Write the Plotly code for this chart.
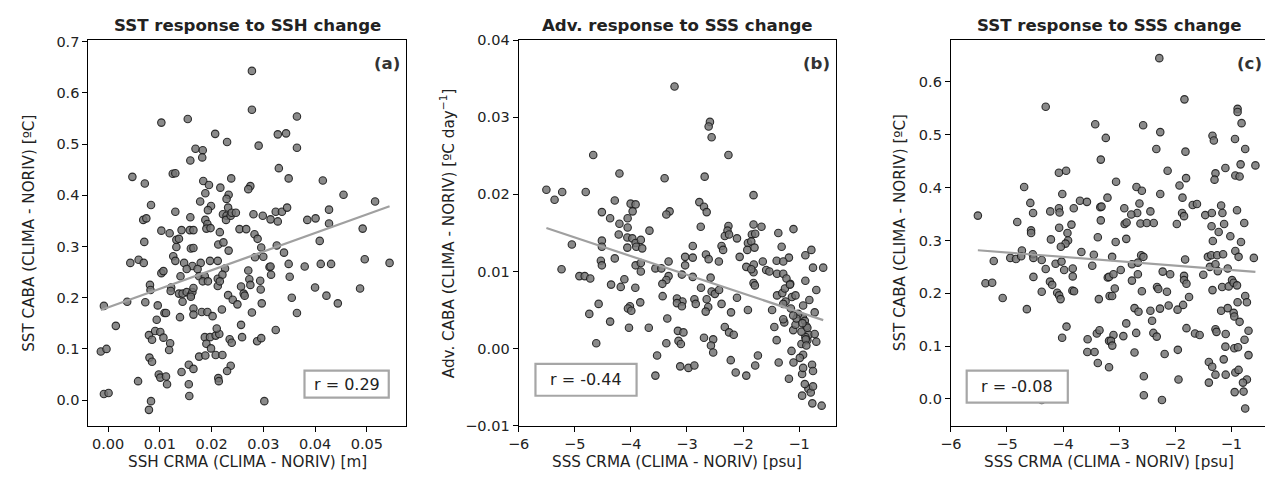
import numpy as np
import plotly.graph_objects as go

# ---------------- data ----------------
# Panel (a): SSH CRMA (x) vs SST CABA (y)
ssh_a = [0.0103,0.0154,0.0207,0.0230,0.0169,0.0183,0.0182,0.0159,0.0047,0.0071,0.0125,0.0130,0.0184,0.0195,0.0217,0.0238,0.0188,0.0233,0.0229,0.0178,0.0199,0.0193,0.0083,0.0130,0.0159,0.0222,0.0229,0.0188,0.0192,0.0228,0.0068,0.0074,0.0237,
         0.0278,0.0278,0.0365,0.0328,0.0344,0.0291,0.0365,0.0330,0.0349,0.0415,0.0275,0.0271,0.0455,0.0516,
         0.0232,0.0239,0.0247,0.0281,0.0299,0.0314,0.0324,0.0336,0.0346,0.0328,0.0385,0.0401,0.0427,0.0427,0.0492,0.0254,0.0267,
         0.0103,0.0119,0.0142,0.0158,0.0165,0.0190,0.0198,0.0216,0.0070,0.0132,0.0137,0.0132,0.0160,0.0165,0.0213,0.0223,0.0233,0.0043,0.0059,0.0069,0.0126,0.0130,0.0147,0.0163,0.0179,0.0197,0.0212,0.0226,0.0152,0.0173,0.0176,0.0187,0.0183,0.0193,0.0212,0.0221,0.0212,0.0216,0.0103,0.0107,0.0140,0.0081,0.0082,0.0122,0.0121,0.0137,0.0144,0.0152,0.0160,0.0163,0.0165,0.0160,0.0144,-0.0008,0.0037,0.0072,0.0096,0.0109,0.0112,0.0094,0.0139,0.0165,0.0165,0.0181,0.0192,0.0202,0.0220,0.0015,0.0079,0.0085,0.0091,0.0101,0.0107,0.0120,0.0118,-0.0014,-0.0003,0.0080,0.0085,0.0176,0.0188,0.0187,0.0197,0.0208,0.0215,0.0210,0.0190,0.0199,0.0208,0.0221,0.0235,0.0237,0.0230,0.0156,0.0165,0.0142,0.0058,0.0098,0.0101,0.0112,0.0114,0.0156,0.0157,0.0213,0.0214,-0.0008,0.0001,0.0083,0.0079,
         0.0283,0.0289,0.0296,0.0284,0.0300,0.0326,0.0340,0.0312,0.0314,0.0315,0.0349,0.0351,0.0380,0.0411,0.0431,0.0409,0.0496,0.0271,0.0273,0.0275,0.0294,0.0295,0.0257,0.0262,0.0264,0.0232,0.0241,0.0250,0.0297,0.0278,0.0355,0.0365,0.0400,0.0422,0.0444,0.0487,0.0257,0.0324,0.0259,0.0239,0.0288,0.0296,0.0302,
         0.0544]
sst_a = [0.542,0.549,0.520,0.504,0.491,0.488,0.474,0.468,0.436,0.423,0.442,0.443,0.428,0.420,0.415,0.433,0.404,0.401,0.393,0.388,0.379,0.371,0.381,0.368,0.357,0.363,0.360,0.352,0.344,0.352,0.352,0.355,0.360,
         0.643,0.567,0.554,0.519,0.521,0.497,0.493,0.453,0.433,0.429,0.418,0.412,0.401,0.388,
         0.376,0.366,0.366,0.363,0.360,0.353,0.368,0.368,0.376,0.349,0.352,0.355,0.372,0.345,0.335,0.334,0.334,
         0.331,0.326,0.332,0.332,0.332,0.335,0.336,0.328,0.309,0.313,0.315,0.299,0.296,0.297,0.304,0.308,0.292,0.268,0.274,0.268,0.281,0.272,0.268,0.262,0.268,0.272,0.272,0.257,0.256,0.256,0.242,0.242,0.232,0.232,0.237,0.245,0.223,0.232,0.248,0.252,0.242,0.225,0.215,0.220,0.213,0.208,0.208,0.211,0.205,0.211,0.219,0.202,0.192,0.184,0.192,0.191,0.185,0.170,0.170,0.157,0.162,0.179,0.167,0.172,0.172,0.164,0.177,0.145,0.127,0.118,0.135,0.133,0.122,0.111,0.098,0.095,0.100,0.083,0.075,0.085,0.087,0.123,0.123,0.126,0.129,0.140,0.110,0.101,0.088,0.088,0.119,0.067,0.057,0.069,0.061,0.055,0.037,0.050,0.044,0.046,0.031,0.031,0.008,0.043,0.037,0.012,0.014,-0.002,-0.019,
         0.324,0.315,0.298,0.279,0.280,0.302,0.288,0.260,0.261,0.245,0.266,0.241,0.261,0.266,0.266,0.311,0.275,0.253,0.236,0.225,0.233,0.216,0.222,0.208,0.204,0.205,0.196,0.187,0.189,0.171,0.200,0.170,0.220,0.204,0.189,0.218,0.147,0.137,0.123,0.112,0.115,0.121,-0.002,
         0.268]

# Panel (b): SSS CRMA (x) vs Adv. CABA (y)
sss_b = [-5.505,-5.359,-5.223,-4.804,-4.670,-4.203,-4.286,-4.516,-4.369,-4.203,-4.057,-4.004,-3.915,-3.968,-4.057,
         -3.221,-2.590,-2.613,-2.560,-2.260,-3.398,-2.684,-1.813,-2.779,-2.696,-2.648,-3.309,-3.367,-2.754,-2.260,-1.813,-1.671,-3.668,
         -5.051,-5.235,-4.917,-4.822,-4.723,-4.516,-4.516,-4.534,-4.516,-4.286,-4.216,-4.062,-3.973,-4.062,-3.915,-3.903,-3.915,-4.352,-4.180,-4.115,-3.920,-4.574,-4.740,-4.016,-4.051,-3.991,-3.832,-4.369,-4.033,-4.616,
         -2.277,-2.325,-2.249,-2.108,-1.843,-1.783,-1.913,-1.853,-1.924,-1.795,-1.371,-3.822,-3.797,-2.896,-3.822,-3.822,-3.562,-3.456,-3.327,-3.032,-2.896,-3.032,-2.661,-2.613,-2.431,-2.383,-2.355,-2.060,-1.942,-1.808,-1.813,-1.853,-1.648,-1.588,-1.530,-1.401,-1.394,-3.327,-3.367,-3.438,-3.090,-2.896,-2.578,-2.749,-2.560,-2.502,-2.427,-1.813,-1.789,-1.394,-3.433,-3.178,-3.080,-3.178,-3.090,-2.867,-2.843,-2.648,-2.620,-2.666,-2.383,-2.108,-2.214,-1.913,-1.482,-3.350,-3.680,-3.161,-3.062,-2.325,-2.249,-2.166,-1.442,-3.367,-3.150,-3.108,-2.696,-2.532,-2.572,-2.532,-1.401,-3.532,-3.120,-2.973,-2.867,-2.219,-2.131,-1.942,-1.735,-1.783,-1.365,-3.562,
         -0.889,-0.889,-0.818,-1.312,-0.935,-0.753,-1.283,-1.300,-1.106,-0.835,-0.571,-0.929,-0.853,-1.182,-1.159,-0.899,-1.129,-0.770,-1.226,-1.018,-0.828,-0.929,-0.871,-0.599,-1.253,-1.147,-1.283,-1.242,-1.065,-1.164,-1.047,-0.988,-0.959,-0.899,-0.753,-0.723,-0.889,-1.182,-1.065,-0.959,-0.947,-0.853,
         -1.283,-1.265,-1.101,-0.694,-0.765,-1.106,-0.947,-0.882,-0.694,-1.136,-1.283,-1.101,-0.929,-0.871,-0.723,-0.793,-0.941,-0.782,-0.753]
adv_b = [0.0206,0.0193,0.0203,0.0203,0.0251,0.0227,0.0192,0.0177,0.0169,0.0162,0.0169,0.0188,0.0187,0.0178,0.0157,
         0.0340,0.0294,0.0288,0.0274,0.0251,0.0221,0.0223,0.0199,0.0190,0.0184,0.0177,0.0178,0.0174,0.0158,0.0159,0.0161,0.0158,0.0153,
         0.0135,0.0103,0.0094,0.0094,0.0091,0.0140,0.0132,0.0114,0.0108,0.0117,0.0148,0.0144,0.0143,0.0131,0.0137,0.0132,0.0108,0.0083,0.0080,0.0090,0.0079,0.0058,0.0045,0.0055,0.0052,0.0049,0.0060,0.0035,0.0027,0.0007,
         0.0153,0.0146,0.0148,0.0143,0.0148,0.0149,0.0137,0.0139,0.0128,0.0131,0.0150,0.0141,0.0130,0.0133,0.0111,0.0100,0.0104,0.0104,0.0113,0.0119,0.0118,0.0108,0.0122,0.0116,0.0113,0.0133,0.0128,0.0119,0.0106,0.0109,0.0099,0.0103,0.0113,0.0102,0.0100,0.0114,0.0097,0.0094,0.0089,0.0084,0.0096,0.0093,0.0092,0.0079,0.0074,0.0071,0.0076,0.0085,0.0082,0.0069,0.0068,0.0065,0.0061,0.0059,0.0055,0.0064,0.0058,0.0064,0.0054,0.0048,0.0058,0.0066,0.0047,0.0050,0.0050,0.0039,0.0027,0.0023,0.0021,0.0028,0.0021,0.0018,0.0028,0.0007,0.0010,0.0006,0.0014,0.0012,0.0004,-0.0005,0.0011,-0.0009,-0.0023,-0.0025,-0.0022,-0.0015,-0.0031,-0.0035,-0.0009,-0.0022,-0.0018,-0.0035,
         0.0121,0.0088,0.0063,0.0132,0.0041,0.0105,0.0097,0.0072,0.0024,-0.0052,0.0105,0.0056,0.0011,0.0118,0.0084,0.0036,0.0067,-0.0021,0.0091,0.0045,0.0018,-0.0008,0.0029,-0.0074,0.0078,0.0052,0.0113,0.0061,0.0031,0.0083,0.0039,-0.0012,0.0006,-0.0046,-0.0029,0.0047,0.0015,-0.0039,0.0069,0.0022,-0.0061,0.0027,
         0.0058,0.0034,-0.0018,0.0009,-0.0071,0.0043,-0.0033,0.0012,0.0076,-0.0003,0.0038,0.0155,-0.0025,0.0004,0.0019,-0.0057,0.0033,0.0128,-0.0049]

# Panel (c): SSS CRMA (x) vs SST CABA (y)
sss_c = [-4.309,-3.426,-3.238,-3.327,-4.074,-3.945,-4.693,-4.013,-4.583,-4.534,-5.518,-4.228,-4.074,-4.062,-3.809,-3.698,-3.574,-3.336,-3.314,-3.208,-4.816,-3.850,-3.327,-4.069,-4.570,
         -2.284,-1.836,-0.889,-0.889,-0.818,-2.572,-2.267,-1.336,-1.312,-0.935,-2.337,-1.818,-0.753,-2.136,-1.283,-1.300,-1.106,-0.835,-0.571,-0.929,-0.853,-1.807,-1.924,-3.055,-2.691,-2.595,-2.267,-1.871,-1.689,-1.613,-2.638,-2.908,-2.678,-2.784,-2.443,-1.878,-1.843,-1.465,-1.348,-1.182,-1.159,-0.899,-2.902,-2.867,-2.620,-2.507,-2.383,-1.972,-1.353,-1.129,-0.770,
         -4.569,-4.216,-3.921,-3.910,-3.956,-4.039,-3.380,-4.733,-4.940,-4.839,-4.746,-4.539,-4.528,-5.235,-4.380,-4.133,-4.027,-3.673,-3.451,-3.827,-3.980,-4.309,-3.479,-3.827,-4.528,-5.382,-5.263,-4.233,-4.193,-4.380,-4.104,-4.069,-4.044,-3.833,-3.804,-5.076,-3.362,-4.645,-3.203,-3.170,-3.938,-4.016,-3.562,-3.398,-3.350,-3.180,-3.567,-3.438,-3.380,-3.180,-4.380,
         -1.226,-3.062,-2.873,-1.330,-1.018,-0.828,-0.929,-0.871,-0.599,-3.125,-2.772,-2.666,-2.608,-2.567,-2.972,-3.180,-3.101,-2.772,-2.666,-1.824,-2.224,-2.090,-1.843,-1.843,-1.800,-1.500,-1.418,-1.358,-1.253,-1.147,-1.382,-1.283,-1.242,-1.065,-3.125,-3.078,-2.595,-2.325,-2.302,-2.148,-1.754,-1.860,-1.959,-2.118,-2.272,-2.443,-2.726,-2.655,-1.336,-1.164,-1.047,-0.988,-0.959,-0.899,-0.753,-0.723,-0.889,-1.182,-1.065,-0.959,-0.947,-0.853,-2.413,-2.873,-3.101,-2.925,-3.146,-3.122,-2.696,-2.390,-2.330,-1.800,-1.648,-1.565,-1.283,-1.265,-1.101,-0.694,-0.765,-1.106,-0.947,-0.882,-2.726,-2.189,-1.954,-0.694,-1.136,-1.401,-1.341,-1.283,-1.101,-0.929,-0.871,-0.723,-0.793,-1.401,-2.560,-1.942,-0.941,-0.782,-2.560,-2.237,-0.753]
sst_c = [0.553,0.520,0.494,0.453,0.428,0.432,0.401,0.388,0.371,0.352,0.347,0.355,0.361,0.353,0.361,0.375,0.373,0.363,0.364,0.381,0.335,0.330,0.338,0.324,0.319,
         0.645,0.567,0.549,0.543,0.522,0.518,0.505,0.498,0.489,0.492,0.473,0.468,0.473,0.432,0.427,0.415,0.437,0.444,0.442,0.423,0.421,0.418,0.404,0.411,0.401,0.394,0.388,0.381,0.367,0.369,0.370,0.361,0.352,0.349,0.355,0.352,0.346,0.348,0.352,0.366,0.352,0.357,0.331,0.334,0.332,0.333,0.333,0.331,0.327,0.331,0.333,
         0.314,0.302,0.314,0.300,0.294,0.288,0.306,0.281,0.267,0.265,0.270,0.274,0.267,0.261,0.263,0.256,0.260,0.278,0.273,0.247,0.244,0.246,0.252,0.232,0.231,0.219,0.220,0.222,0.216,0.203,0.201,0.196,0.189,0.205,0.204,0.191,0.189,0.170,0.230,0.195,0.137,0.116,0.113,0.124,0.130,0.110,0.089,0.089,0.068,0.060,-0.002,
         0.316,0.297,0.303,0.299,0.308,0.297,0.280,0.269,0.267,0.269,0.255,0.258,0.272,0.269,0.244,0.231,0.236,0.224,0.236,0.264,0.241,0.236,0.233,0.225,0.218,0.235,0.269,0.272,0.272,0.274,0.250,0.255,0.242,0.247,0.195,0.209,0.204,0.212,0.208,0.203,0.193,0.178,0.169,0.177,0.171,0.167,0.172,0.165,0.206,0.212,0.213,0.225,0.220,0.215,0.195,0.183,0.183,0.167,0.172,0.163,0.156,0.146,0.148,0.143,0.121,0.119,0.110,0.101,0.125,0.125,0.118,0.134,0.124,0.121,0.132,0.127,0.123,0.129,0.112,0.099,0.096,0.098,0.088,0.085,0.093,0.083,0.075,0.070,0.061,0.046,0.046,0.050,0.055,0.037,0.031,0.031,0.043,0.037,0.013,0.014,0.007,-0.002,-0.018]

titles = ["SST response to SSH change", "Adv. response to SSS change", "SST response to SSS change"]
panel_tags = ["(a)", "(b)", "(c)"]
r_labels = ["r = 0.29", "r = -0.44", "r = -0.08"]
x_titles = ["SSH CRMA (CLIMA - NORIV) [m]", "SSS CRMA (CLIMA - NORIV) [psu]", "SSS CRMA (CLIMA - NORIV) [psu]"]
y_titles = ["SST CABA (CLIMA - NORIV) [ºC]", "Adv. CABA (CLIMA - NORIV) [ºC day<sup>−1</sup>]", "SST CABA (CLIMA - NORIV) [ºC]"]

# ---------------- layout geometry (window pixels; page body has an 8px margin) ----------------
OFF = 8
W, H = 1265, 475
FONT = "DejaVu Sans"


def px(x):
    return (x - OFF) / W


def py(y):
    return 1 - (y - OFF) / H


x_doms = [(78, 398), (512, 832), (948, 1268)]
y_top, y_bot = 33, 432
ydom = [py(y_bot), py(y_top)]
ylab_x = [18, 440, 897]

fig = go.Figure()
panels = [(ssh_a, sst_a), (sss_b, adv_b), (sss_c, sst_c)]
for i, (xs, ys) in enumerate(panels):
    xa = "x" if i == 0 else f"x{i+1}"
    ya = "y" if i == 0 else f"y{i+1}"
    fig.add_trace(go.Scatter(
        x=xs, y=ys, mode="markers", xaxis=xa, yaxis=ya, showlegend=False,
        marker=dict(size=7.5, color="rgba(118,118,118,0.85)",
                    line=dict(width=1.1, color="rgba(20,20,20,0.85)"))))
    xarr, yarr = np.asarray(xs), np.asarray(ys)
    k, b = np.polyfit(xarr, yarr, 1)
    xl = np.array([xarr.min(), xarr.max()])
    fig.add_trace(go.Scatter(
        x=xl, y=k * xl + b, mode="lines", xaxis=xa, yaxis=ya, showlegend=False,
        line=dict(color="#a0a0a0", width=2.2)))

axis_common = dict(showline=True, mirror=True, linecolor="black", linewidth=1.1,
                   ticks="outside", ticklen=5, tickwidth=1.1, tickcolor="black",
                   showgrid=False, zeroline=False,
                   tickfont=dict(family=FONT, size=14.5, color="#222"))

fig.update_layout(
    xaxis=dict(domain=[px(x_doms[0][0]), px(x_doms[0][1])], range=[-0.0038, 0.0575],
               tickvals=[0, 0.01, 0.02, 0.03, 0.04, 0.05], tickformat=".2f", anchor="y", **axis_common),
    yaxis=dict(domain=ydom, range=[-0.05, 0.703], tickvals=[0, 0.1, 0.2, 0.3, 0.4, 0.5, 0.6, 0.7],
               tickformat=".1f", anchor="x", **axis_common),
    xaxis2=dict(domain=[px(x_doms[1][0]), px(x_doms[1][1])], range=[-6, -0.346],
                tickvals=[-6, -5, -4, -3, -2, -1], anchor="y2", **axis_common),
    yaxis2=dict(domain=ydom, range=[-0.01, 0.04], tickvals=[-0.01, 0, 0.01, 0.02, 0.03, 0.04],
                tickformat=".2f", anchor="x2", **axis_common),
    xaxis3=dict(domain=[px(x_doms[2][0]), px(x_doms[2][1])], range=[-6, -0.346],
                tickvals=[-6, -5, -4, -3, -2, -1], anchor="y3", **axis_common),
    yaxis3=dict(domain=ydom, range=[-0.0506, 0.679], tickvals=[0, 0.1, 0.2, 0.3, 0.4, 0.5, 0.6],
                tickformat=".1f", anchor="x3", **axis_common),
)

ann = []
shapes = []
for i in range(3):
    x0, x1 = x_doms[i]
    xc = px((x0 + x1) / 2)
    ann.append(dict(text=f"<b>{titles[i]}</b>", x=xc, y=py(18), xref="paper", yref="paper",
                    xanchor="center", yanchor="middle", showarrow=False,
                    font=dict(family=FONT, size=16.6, color="#222")))
    ann.append(dict(text=f"<b>{panel_tags[i]}</b>", x=px(x1 - 4), y=py(57), xref="paper", yref="paper",
                    xanchor="right", yanchor="middle", showarrow=False,
                    font=dict(family=FONT, size=16.6, color="#333")))
    ann.append(dict(text=x_titles[i], x=xc, y=py(470), xref="paper", yref="paper",
                    xanchor="center", yanchor="middle", showarrow=False,
                    font=dict(family=FONT, size=15.2, color="#222")))
    ann.append(dict(text=y_titles[i], x=px(ylab_x[i]), y=(ydom[0] + ydom[1]) / 2, xref="paper", yref="paper",
                    xanchor="center", yanchor="middle", showarrow=False, textangle=-90,
                    font=dict(family=FONT, size=15.2, color="#222")))

# r boxes
r_boxes = [(296, 381, 375, 403), (529, 631, 368, 401), (964, 1066, 375, 408)]
for i, (bx0, bx1, by0, by1) in enumerate(r_boxes):
    shapes.append(dict(type="rect", xref="paper", yref="paper",
                       x0=px(bx0), x1=px(bx1), y0=py(by1), y1=py(by0),
                       line=dict(color="#a6a6a6", width=2.2), fillcolor="white", layer="above"))
    ann.append(dict(text=r_labels[i], x=px((bx0 + bx1) / 2), y=py((by0 + by1) / 2),
                    xref="paper", yref="paper", xanchor="center", yanchor="middle", showarrow=False,
                    font=dict(family=FONT, size=16, color="#222")))

fig.update_layout(width=W, height=H, margin=dict(l=0, r=0, t=0, b=0),
                  paper_bgcolor="white", plot_bgcolor="white",
                  annotations=ann, shapes=shapes, font=dict(family=FONT))

fig.write_html("out.html")
